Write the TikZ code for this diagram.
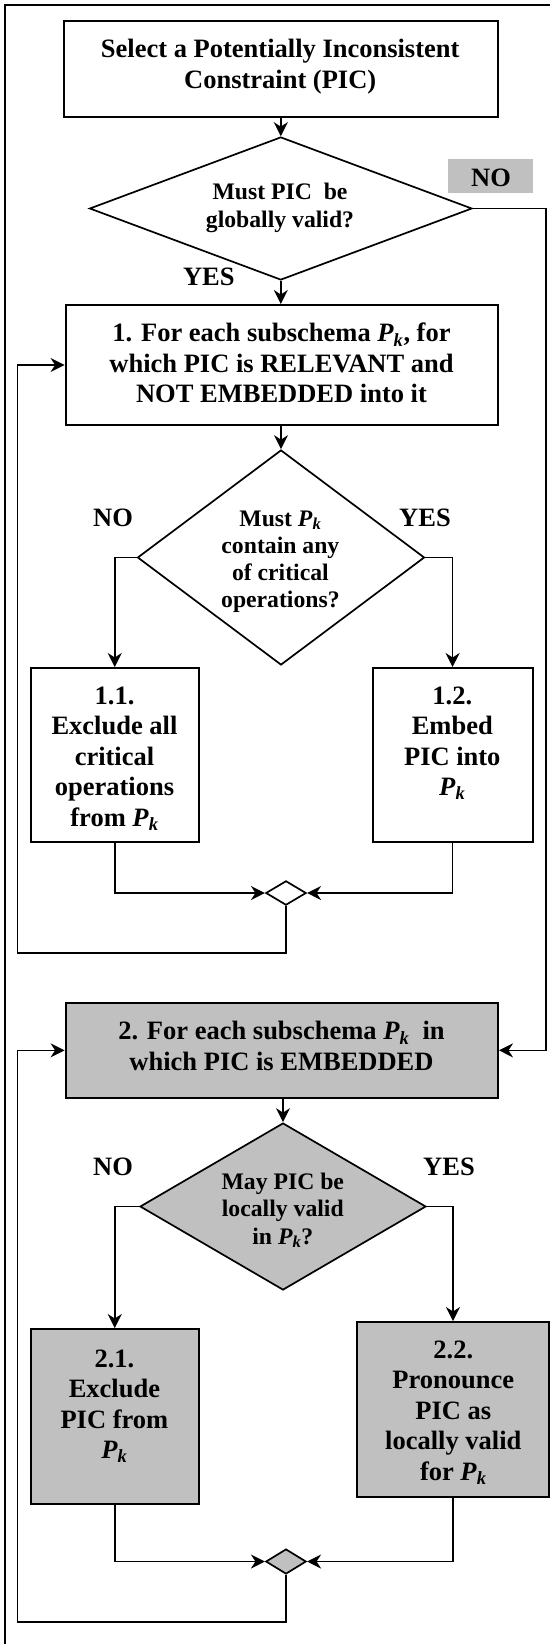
\documentclass[tikz,border=0pt]{standalone}
\usepackage{fontspec}
\setmainfont{Liberation Serif}
\usetikzlibrary{shapes.geometric,arrows.meta}
\definecolor{boxgray}{RGB}{192,192,192}
\newcommand{\Pk}{\textit{P}\textsubscript{\textit{k}}}
\begin{document}
\begin{tikzpicture}[x=1pt,y=-1pt,
  box/.style={draw=black, rectangle, line width=2pt, inner sep=0pt},
  gbox/.style={box, fill=boxgray},
  dia/.style={draw=black, diamond, line width=1.7pt, inner sep=0pt},
  gdia/.style={dia, fill=boxgray},
  txt/.style={font=\fontsize{26.5}{30.5}\selectfont\bfseries, align=center, inner sep=0pt, anchor=north},
  dtxt/.style={font=\fontsize{23.7}{27.2}\selectfont\bfseries, align=center, inner sep=0pt, anchor=north},
  lab/.style={font=\fontsize{26.5}{30.5}\selectfont\bfseries, inner sep=0pt},
  conn/.style={line width=1.6pt},
  arr/.style={conn, -{Stealth[length=14pt,width=14pt,inset=4.5pt]}}]
\useasboundingbox (0,0) rectangle (550,1644);
% outer frame
\draw[line width=1.6pt] (5,1644) -- (5,5) -- (550,5);

% shapes
\node[box, minimum width=433.5pt, minimum height=96pt] (sel) at (280.8,69) {};
\node[dia, minimum width=382.5pt, minimum height=143pt] (d1) at (280.8,208.5) {};
\node[fill=boxgray, minimum width=85pt, minimum height=34pt, inner sep=0pt] (nobox) at (490.5,176) {};
\node[box, minimum width=432.4pt, minimum height=120pt] (b1) at (281.8,365) {};
\node[dia, minimum width=287pt, minimum height=215pt] (d2) at (281,557.5) {};
\node[box, minimum width=168.5pt, minimum height=174pt] (b11) at (114.75,755) {};
\node[box, minimum width=160pt, minimum height=174pt] (b12) at (452.6,755) {};
\node[dia, minimum width=40.4pt, minimum height=24.3pt] (j1) at (286,893) {};
\node[gbox, minimum width=432.4pt, minimum height=95.3pt] (b2) at (281.8,1050.35) {};
\node[gdia, minimum width=286pt, minimum height=167pt] (d3) at (283,1206.5) {};
\node[gbox, minimum width=168.5pt, minimum height=175pt] (b21) at (114.75,1416.5) {};
\node[gbox, minimum width=192pt, minimum height=175pt] (b22) at (453,1409.5) {};
\node[gdia, minimum width=40.4pt, minimum height=25pt] (j2) at (286,1561.5) {};

% texts
\node[txt] (selt) at (280.2,39.3) {Select a Potentially Inconsistent\\Constraint (PIC)};
\node[dtxt] (d1t) at (280,183.3) {Must PIC\ \ be\\globally valid?};
\node[lab] (nol) at (491,178) {NO};
\node[lab] (yes1) at (208.8,277.3) {YES};
\node[txt] (b1t) at (281.5,323) {1. For each subschema \Pk, for\\which PIC is RELEVANT and\\NOT EMBEDDED into it};
\node[dtxt] (d2t) at (280.4,510.3) {Must \Pk\\contain any\\of critical\\operations?};
\node[lab] (no2) at (113,518.3) {NO};
\node[lab] (yes2) at (425,518.3) {YES};
\node[txt] (b11t) at (114.5,686.3) {1.1.\\Exclude all\\critical\\operations\\from \Pk};
\node[txt] (b12t) at (452.3,686.3) {1.2.\\Embed\\PIC into\\\Pk};
\node[txt] (b2t) at (281.5,1021.3) {2. For each subschema \Pk\ \ in\\which PIC is EMBEDDED};
\node[dtxt] (d3t) at (282.8,1173) {May PIC be\\locally valid\\in \Pk?};
\node[lab] (no3) at (113,1167.3) {NO};
\node[lab] (yes3) at (449,1167.3) {YES};
\node[txt] (b21t) at (114.4,1349.3) {2.1.\\Exclude\\PIC from\\\Pk};
\node[txt] (b22t) at (453.3,1340.3) {2.2.\\Pronounce\\PIC as\\locally valid\\for \Pk};

% helper coordinates
\coordinate (nc) at (546,1050.35);
\coordinate (lp1) at (17.5,952.7);
\coordinate (lp2) at (17.5,1621.7);

% connectors
\draw[arr] (sel.south) -- (d1.north);
\draw[arr] (d1.south) -- (d1.south |- b1.north);
\draw[arr] (d1.east) -| (nc) -- (b2.east);
\draw[arr] (b1.south -| d2.north) -- (d2.north);
\draw[arr] (d2.west) -| (b11.north);
\draw[arr] (d2.east) -| (b12.north);
\draw[arr] (b11.south) |- (j1.west);
\draw[arr] (b12.south) |- (j1.east);
\draw[arr] (j1.south) |- (lp1) |- (b1.west);
\draw[arr] (b2.south -| d3.north) -- (d3.north);
\draw[arr] (d3.west) -| (b21.north);
\draw[arr] (d3.east) -| (b22.north);
\draw[arr] (b21.south) |- (j2.west);
\draw[arr] (b22.south) |- (j2.east);
\draw[arr] (j2.south) |- (lp2) |- (b2.west);
\end{tikzpicture}
\end{document}
